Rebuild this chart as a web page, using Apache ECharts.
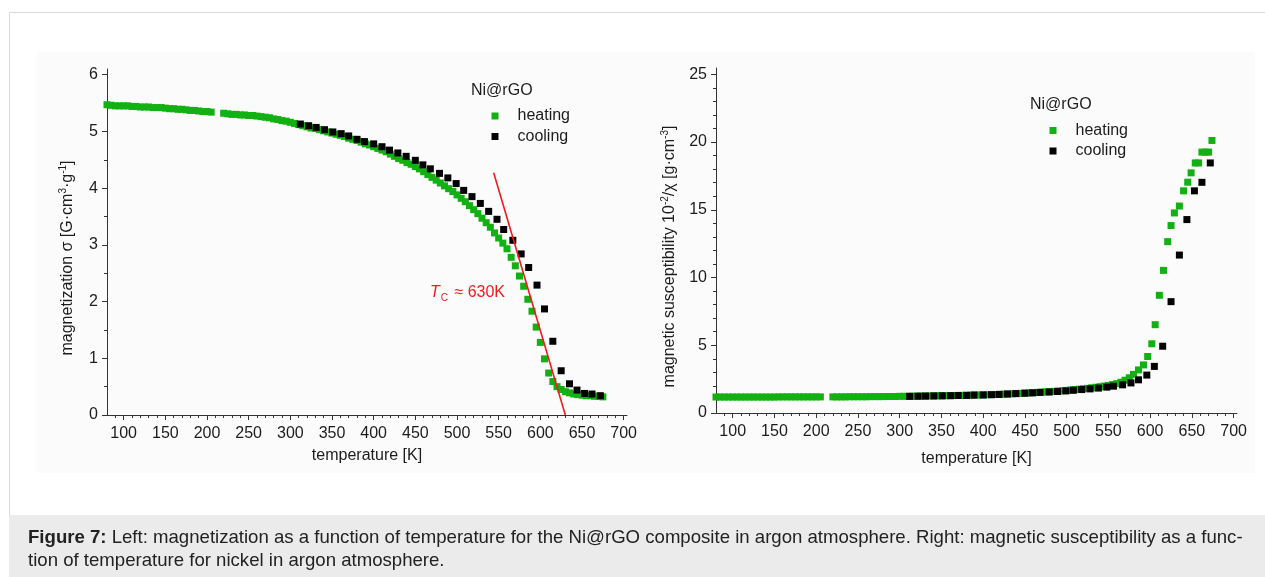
<!DOCTYPE html>
<html><head><meta charset="utf-8">
<script src="https://cdn.jsdelivr.net/npm/echarts@6/dist/echarts.min.js"></script>
<style>html,body{margin:0;padding:0;background:#fff}#c{width:1265px;height:577px}</style>
</head><body><div id="c"></div>
<script>
// ---- data ----
const heatT_mag = [80,85,90,95,100,105,110,115,120,125,130,135,140,145,150,155,160,165,170,175,180,185,190,195,200,205,
220,225,230,235,240,245,250,255,260,265,270,275,280,285,290,295,300,305,310,315,320,325,330,335,340,345,350,355,360,365,
370,375,380,385,390,395,400,405,410,415,420,425,430,435,440,445,450,455,460,465,470,475,480,485,490,495,500,505,510,515,
520,525,530,535,540,545,550,555,560,565,570,575,580,585,590,595,600,605,610,615,620,625,630,635,640,645,650,655,660,665,670,675];
const heatMag = [5.47,5.46,5.45,5.45,5.45,5.45,5.44,5.44,5.43,5.43,5.43,5.42,5.42,5.42,5.41,5.40,5.40,5.39,5.39,5.38,5.37,5.37,5.36,5.35,5.35,5.34,
5.32,5.31,5.30,5.30,5.29,5.29,5.28,5.28,5.27,5.26,
5.25,5.24,5.22,5.21,5.19,5.18,5.16,5.14,5.12,5.10,
5.08,5.06,5.05,5.03,5.01,4.99,4.97,4.95,4.93,4.91,
4.88,4.86,4.84,4.81,4.78,4.76,4.73,4.70,4.67,4.64,
4.60,4.56,4.52,4.49,4.45,4.42,4.38,4.34,4.29,4.24,
4.19,4.14,4.09,4.04,3.99,3.94,3.88,3.82,3.76,3.69,
3.62,3.55,3.47,3.39,3.31,
3.21,3.12,3.03,2.93,2.78,2.63,2.45,2.27,2.04,1.83,1.55,1.28,0.99,0.74,0.59,0.50,0.45,0.41,0.39,0.37,0.36,0.35,0.34,0.34,0.33,0.33,0.32];

const heatT_sus = [80,85,90,95,100,105,110,115,120,125,130,135,140,145,150,155,160,165,170,175,180,185,190,195,200,205,
220,225,230,235,240,245,250,255,260,265,270,275,280,285,290,295,300,305,310,315,320,325,330,335,340,345,350,355,360,365,
370,375,380,385,390,395,400,405,410,415,420,425,430,435,440,445,450,455,460,465,470,475,480,485,490,495,500,505,510,515,
520,525,530,535,540,545,550,555,560,565,570,575,
580,586,592,597,602,606,611,616,621,625,629,635,640,645,649,654,658,662,666,670,674];
const heatSus = [1.18,1.18,1.18,1.18,1.18,1.18,1.18,1.18,1.18,1.18,1.18,1.18,1.18,1.18,1.18,1.19,1.19,1.19,1.19,1.19,1.19,1.19,1.19,1.19,1.19,1.19,
1.19,1.19,1.19,1.19,1.20,1.20,1.20,1.20,1.20,1.21,
1.21,1.21,1.21,1.22,1.22,1.22,1.23,1.23,1.23,1.24,
1.24,1.25,1.25,1.26,1.26,1.27,1.27,1.28,1.28,1.29,
1.30,1.30,1.31,1.32,1.33,1.33,1.34,1.35,1.36,1.37,
1.38,1.39,1.41,1.42,1.44,1.45,1.47,1.48,1.50,1.52,
1.54,1.56,1.58,1.60,1.62,1.64,1.67,1.70,1.73,1.76,
1.79,1.82,1.86,1.90,1.94,1.99,2.04,2.10,2.17,2.27,
2.42,2.60,
2.85,3.18,3.55,4.17,5.11,6.52,8.69,10.53,12.65,13.84,14.77,15.28,16.40,17.04,17.73,18.46,18.46,19.26,19.26,19.26,20.12];

const coolT = [312,322,331,341,351,361,370,380,389,400,410,419,429,439,450,459,468,479,489,499,508,518,528,538,548,556,567,577,586,596,605,615,625,635,644,653,662,672];
const magCool = [5.13,5.10,5.07,5.03,4.99,4.96,4.92,4.86,4.82,4.78,4.73,4.67,4.62,4.56,4.49,4.41,4.34,4.26,4.18,4.08,3.96,3.85,3.73,3.59,3.45,3.27,3.08,2.84,2.60,2.29,1.87,1.30,0.78,0.55,0.44,0.38,0.37,0.34];
const susCool = [1.23,1.24,1.25,1.26,1.27,1.28,1.29,1.30,1.32,1.33,1.35,1.37,1.40,1.43,1.46,1.49,1.52,1.55,1.59,1.63,1.68,1.73,1.78,1.84,1.91,1.98,2.08,2.22,2.45,2.80,3.44,4.93,8.22,11.66,14.28,16.40,17.03,18.46];

const tcLine = [[544, 4.27], [630, 0]];

const xTicks = [100,150,200,250,300,350,400,450,500,550,600,650,700];
const xMinorTicks = [90,100,110,120,130,140,150,160,170,180,190,200,210,220,230,240,250,260,270,280,290,300,310,320,330,340,350,360,370,380,390,400,410,420,430,440,450,460,470,480,490,500,510,520,530,540,550,560,570,580,590,600,610,620,630,640,650,660,670,680,690,700];
const magTicks = [0,1,2,3,4,5,6];
const magMinorTicks = [0.5,1.5,2.5,3.5,4.5,5.5];
const susTicks = [0,5,10,15,20,25];
const susMinorTicks = [1,2,3,4,6,7,8,9,11,12,13,14,16,17,18,19,21,22,23,24];

const legendNames = ['heating','cooling'];
const sampleName = 'Ni@rGO';
const captionBold = 'Figure 7:';
const captionLine1 = ' Left: magnetization as a function of temperature for the Ni@rGO composite in argon atmosphere. Right: magnetic susceptibility as a func-';
const captionLine2 = 'tion of temperature for nickel in argon atmosphere.';

// ---- styling ----
const FONT = '"Liberation Sans", Arial, Helvetica, sans-serif';
const GREEN = '#12b012';
const BLACK = '#000000';
const TXT = '#1c1c1c';
const AX = '#333333';
const RED = '#f01b1b';
const FS = 16;
const CFS = 18.6;

const zip = (a, b) => a.map((v, i) => [v, b[i]]);

function xAxes(grid, nameGap) {
  return [
    { gridIndex: grid, type: 'value', min: 80, max: 704, position: 'bottom',
      axisLine: { show: true, lineStyle: { color: AX, width: 1 } },
      axisTick: { show: true, customValues: xTicks, length: 5, lineStyle: { color: AX } },
      axisLabel: { customValues: xTicks, margin: 11, fontSize: FS, color: TXT, fontFamily: FONT },
      splitLine: { show: false },
      name: 'temperature [K]', nameLocation: 'middle', nameGap: nameGap,
      nameTextStyle: { fontSize: FS, color: TXT, fontFamily: FONT } },
    { gridIndex: grid, type: 'value', min: 80, max: 704, position: 'bottom',
      axisLine: { show: false },
      axisTick: { show: true, customValues: xMinorTicks, length: 3, lineStyle: { color: AX } },
      axisLabel: { show: false }, splitLine: { show: false } }
  ];
}
function yAxes(grid, max, ticks, minor, name, gap) {
  return [
    { gridIndex: grid, type: 'value', min: 0, max: max, position: 'left',
      axisLine: { show: true, lineStyle: { color: AX, width: 1 } },
      axisTick: { show: true, customValues: ticks, length: 5, lineStyle: { color: AX } },
      axisLabel: { customValues: ticks, margin: 9, fontSize: FS, color: TXT, fontFamily: FONT },
      splitLine: { show: false },
      name: name, nameLocation: 'middle', nameGap: gap, nameRotate: 90,
      nameTextStyle: { fontSize: FS, color: TXT, fontFamily: FONT, lineHeight: 20, padding: [0, 32, 0, 0],
        rich: { sup: { fontSize: 10, fontFamily: FONT, color: TXT, verticalAlign: 'top', lineHeight: 12 } } } },
    { gridIndex: grid, type: 'value', min: 0, max: max, position: 'left',
      axisLine: { show: false },
      axisTick: { show: true, customValues: minor, length: 3, lineStyle: { color: AX } },
      axisLabel: { show: false }, splitLine: { show: false } }
  ];
}

function legend(left, top) {
  return { data: legendNames, orient: 'vertical', left: left, top: top,
    icon: 'rect', itemWidth: 7, itemHeight: 7, itemGap: 4.5, selectedMode: false,
    textStyle: { fontSize: FS, color: TXT, fontFamily: FONT, lineHeight: 16, padding: [0, 0, 0, 14] } };
}

const scat = (name, xi, yi, data, color, z) => ({
  name, type: 'scatter', xAxisIndex: xi, yAxisIndex: yi, data,
  symbol: 'rect', symbolSize: 7, itemStyle: { color, opacity: 1 }, z,
  emphasis: { disabled: true }, animation: false });

const chart = echarts.init(document.getElementById('c'), null, { renderer: 'canvas' });
chart.setOption({
  animation: false,
  backgroundColor: '#ffffff',
  grid: [
    { left: 107, top: 69, width: 520, height: 346 },
    { left: 716, top: 68, width: 521, height: 345 }
  ],
  xAxis: [].concat(xAxes(0, 33), xAxes(1, 38)),
  yAxis: [].concat(
    yAxes(0, 6.1, magTicks, magMinorTicks, 'magnetization σ [G·cm{sup|3}·g{sup|-1}]', 29),
    yAxes(1, 25.47, susTicks, susMinorTicks, 'magnetic susceptibility 10{sup|-2}/χ [g·cm{sup|-3}]', 36)
  ),
  legend: [legend(486.5, 103), legend(1044.5, 117.5)],
  series: [
    scat('heating', 0, 0, zip(heatT_mag, heatMag), GREEN, 3),
    scat('cooling', 0, 0, zip(coolT, magCool), BLACK, 4),
    { name: 'Tc', type: 'line', xAxisIndex: 0, yAxisIndex: 0, data: tcLine, symbol: 'none',
      lineStyle: { color: RED, width: 1.6 }, z: 5, silent: true, animation: false },
    scat('heating', 2, 2, zip(heatT_sus, heatSus), GREEN, 3),
    scat('cooling', 2, 2, zip(coolT, susCool), BLACK, 4)
  ],
  graphic: [
    { type: 'rect', z: -10, shape: { x: 37, y: 52, width: 1218, height: 421 }, style: { fill: '#fbfbfb' } },
    { type: 'polyline', z: -5, shape: { points: [[9.5, 515], [9.5, 12.5], [1265, 12.5]] }, style: { stroke: '#d9d9d9', lineWidth: 1, fill: null } },
    { type: 'rect', z: -5, shape: { x: 9, y: 515, width: 1256, height: 62 }, style: { fill: '#ebebeb' } },
    { type: 'text', z: 10, style: { x: 28, y: 538, text: '{b|' + captionBold + '}' + captionLine1, verticalAlign: 'middle',
        font: CFS + 'px ' + FONT, fill: '#222', rich: { b: { fontWeight: 'bold', fontSize: CFS, fontFamily: FONT, fill: '#222' } } } },
    { type: 'text', z: 10, style: { x: 28, y: 561, text: captionLine2, verticalAlign: 'middle', font: CFS + 'px ' + FONT, fill: '#222' } },
    { type: 'text', z: 10, style: { x: 471, y: 91, text: sampleName, verticalAlign: 'middle', font: '16px ' + FONT, fill: TXT } },
    { type: 'text', z: 10, style: { x: 1030, y: 105, text: sampleName, verticalAlign: 'middle', font: '16px ' + FONT, fill: TXT } },
    { type: 'text', z: 10, style: { x: 430, y: 293, text: '{t|T}{s|C} ≈ 630K', verticalAlign: 'middle', font: '16px ' + FONT, fill: RED,
        rich: { t: { fontStyle: 'italic', fontSize: 16, fontFamily: FONT, fill: RED },
                s: { fontSize: 10, fontFamily: FONT, fill: RED, verticalAlign: 'bottom', padding: [10, 2, 0, 1] } } } }
  ]
});
</script></body></html>
